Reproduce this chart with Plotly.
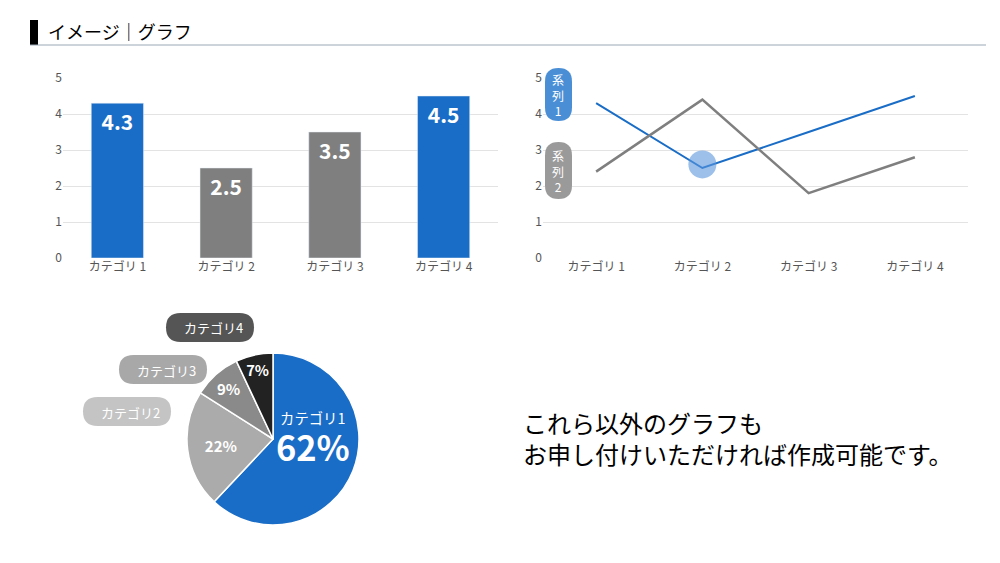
import plotly.graph_objects as go

categories = ["カテゴリ 1", "カテゴリ 2", "カテゴリ 3", "カテゴリ 4"]
bar_values = [4.3, 2.5, 3.5, 4.5]
series1 = [4.3, 2.5, 3.5, 4.5]
series2 = [2.4, 4.4, 1.8, 2.8]
pie_labels = ["カテゴリ1", "カテゴリ2", "カテゴリ3", "カテゴリ4"]
pie_values = [62, 22, 9, 7]

BLUE = "#1a6dc6"; GRAY = "#7f7f7f"
W, H = 1000, 563
F = "Noto Sans CJK JP"

def px(x): return x / W
def py(y): return 1 - y / H

def pill(x0, y0, x1, y1, color):
    r = min(x1 - x0, y1 - y0) / 2
    pts = [("M", x0 + r, y0), ("L", x1 - r, y0), ("Q", x1, y0, x1, y0 + r), ("L", x1, y1 - r),
           ("Q", x1, y1, x1 - r, y1), ("L", x0 + r, y1), ("Q", x0, y1, x0, y1 - r),
           ("L", x0, y0 + r), ("Q", x0, y0, x0 + r, y0)]
    s = ""
    for p in pts:
        c = p[0]; v = p[1:]
        s += c + " " + " ".join(f"{px(v[i]) if i % 2 == 0 else py(v[i]):.5f}" for i in range(len(v))) + " "
    return dict(type="path", path=s + "Z", xref="paper", yref="paper", fillcolor=color, line_width=0, layer="above")

fig = go.Figure()
fig.add_trace(go.Bar(x=categories, y=bar_values, marker_color=[BLUE, GRAY, GRAY, BLUE], width=0.48,
                     text=[f"<b>{v}</b>" for v in bar_values], textposition="inside", insidetextanchor="end",
                     textfont=dict(color="white", size=21, family=F), xaxis="x", yaxis="y"))
fig.add_trace(go.Scatter(x=categories, y=series1, mode="lines", line=dict(color=BLUE, width=2), xaxis="x2", yaxis="y2"))
fig.add_trace(go.Scatter(x=categories, y=series2, mode="lines", line=dict(color=GRAY, width=2.5), xaxis="x2", yaxis="y2"))
fig.add_trace(go.Scatter(x=[categories[1]], y=[2.6], mode="markers", marker=dict(size=28, color="rgba(90,150,220,0.6)"),
                         xaxis="x2", yaxis="y2"))
fig.add_trace(go.Pie(labels=pie_labels, values=pie_values, sort=False, direction="clockwise",
                     marker=dict(colors=[BLUE, "#ababab", "#8a8a8a", "#222222"], line=dict(color="white", width=1.5)),
                     texttemplate=["%{label}<br> <br><span style='font-size:36px'><b>%{value}%</b></span>",
                                   "<b>%{value}%</b>", "<b>%{value}%</b>", "<b>%{value}%</b>"],
                     textposition="inside", insidetextorientation="horizontal",
                     textfont=dict(color="white", size=15, family=F),
                     domain=dict(x=[px(179), px(351)], y=[py(517), py(345)])))

ax = dict(showgrid=False, showline=False, tickfont=dict(size=12, color="#555", family=F), ticks="", range=[-0.5, 3.5])
ay = dict(range=[0, 5], dtick=1, gridcolor="#e3e3e3", zeroline=False, tickfont=dict(size=12, color="#555", family=F))
fig.update_layout(
    width=W, height=H, margin=dict(l=0, r=0, t=0, b=0, autoexpand=False), plot_bgcolor="white", paper_bgcolor="white",
    showlegend=False, font=dict(family=F),
    xaxis=dict(domain=[px(55), px(490)], anchor="y", **ax),
    yaxis=dict(domain=[py(250), py(70)], anchor="x", **ay),
    xaxis2=dict(domain=[px(535), px(960)], anchor="y2", **ax),
    yaxis2=dict(domain=[py(250), py(70)], anchor="x2", **ay),
)

shapes = [
    dict(type="rect", xref="paper", yref="paper", x0=px(22), x1=px(30), y0=py(37), y1=py(12), fillcolor="black", line_width=0),
    dict(type="line", xref="paper", yref="paper", x0=px(22), x1=px(978), y0=py(37), y1=py(37), line=dict(color="#9aa8b5", width=1)),
    pill(537, 60, 564, 113, "#4a8fd6"),
    pill(537, 134, 564, 191, "#9a9a9a"),
    pill(158, 305, 246, 334, "#555555"),
    pill(111, 347, 199, 376, "#a8a8a8"),
    pill(75, 389, 163, 418, "#c4c4c4"),
]
fig.update_layout(shapes=shapes)

ann = [
    dict(x=px(38), y=py(23), text="イメージ｜グラフ", font=dict(size=18, color="black")),
    dict(x=px(542), y=py(87), text="系<br>列<br>1", font=dict(size=12, color="white")),
    dict(x=px(542), y=py(163), text="系<br>列<br>2", font=dict(size=12, color="white")),
    dict(x=px(174), y=py(319), text="カテゴリ4", font=dict(size=13, color="white")),
    dict(x=px(127), y=py(362), text="カテゴリ3", font=dict(size=13, color="white")),
    dict(x=px(91), y=py(404), text="カテゴリ2", font=dict(size=13, color="white")),
    dict(x=px(513), y=py(430), text="これら以外のグラフも<br>お申し付けいただければ作成可能です。",
         font=dict(size=24, color="black"), align="left"),
    dict(x=px(986), y=py(548), text="5", font=dict(size=10, color="black")),
]
for a in ann:
    a.update(xref="paper", yref="paper", xanchor="left", yanchor="middle", showarrow=False)
    a["font"]["family"] = F
fig.update_layout(annotations=ann)

fig.write_html("out.html")
